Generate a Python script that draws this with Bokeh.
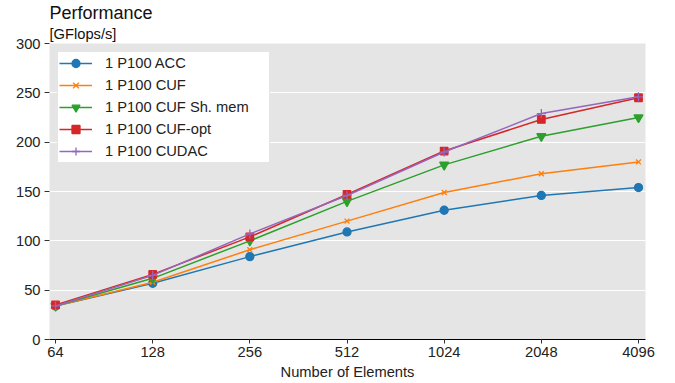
from bokeh.plotting import figure
from bokeh.models import FixedTicker, Legend, LegendItem, Range1d, Title
from bokeh.embed import file_html
from bokeh.resources import INLINE

elements = [64, 128, 256, 512, 1024, 2048, 4096]
tick_labels = ["64", "128", "256", "512", "1024", "2048", "4096"]
acc = [34, 57, 84, 109, 131, 146, 154]
cuf = [34, 58, 91, 120, 149, 168, 180]
cuf_shmem = [34, 62, 100, 140, 177, 206, 225]
cuf_opt = [35, 66, 104, 147, 191, 223, 245]
cudac = [34, 65, 107, 146, 190, 229, 246]
y_ticks = [0, 50, 100, 150, 200, 250, 300]

series = [
    ("1 P100 ACC", acc, "#1f77b4", "circle", 8),
    ("1 P100 CUF", cuf, "#ff7f0e", "x", 7),
    ("1 P100 CUF Sh. mem", cuf_shmem, "#2ca02c", "inverted_triangle", 9),
    ("1 P100 CUF-opt", cuf_opt, "#d62728", "square", 7.5),
    ("1 P100 CUDAC", cudac, "#9467bd", "cross", 9),
]

FONT = "Liberation Sans"
FS = "14.7px"

p = figure(width=675, height=383, x_axis_type="log",
           x_range=Range1d(61.3, 4306), y_range=Range1d(0, 300),
           output_backend="svg", toolbar_location=None,
           title="Performance",
           min_border_left=49, min_border_right=30,
           min_border_top=43, min_border_bottom=44)
p.title.text_font = FONT
p.title.text_font_size = "18px"
p.title.text_font_style = "normal"
p.title.text_color = "#111111"
p.title.align = "left"
p.title.standoff = 0
p.title.offset = 0
p.add_layout(Title(text="[GFlops/s]", text_font=FONT, text_font_size=FS,
                   text_font_style="normal", text_color="#111111",
                   align="left", standoff=3, offset=0), "above")

p.background_fill_color = "#e5e5e5"
p.border_fill_color = "white"
p.outline_line_color = None

p.xgrid.grid_line_color = None
p.ygrid.grid_line_color = "white"
p.ygrid.grid_line_width = 1.2
p.ygrid.ticker = FixedTicker(ticks=y_ticks)

p.xaxis.ticker = FixedTicker(ticks=elements)
p.xaxis.major_label_overrides = {e: t for e, t in zip(elements, tick_labels)}
p.xaxis.minor_tick_line_color = None
p.xaxis.axis_label = "Number of Elements"
p.xaxis.axis_label_text_font = FONT
p.xaxis.axis_label_text_font_style = "normal"
p.xaxis.axis_label_text_font_size = FS
p.xaxis.axis_label_text_color = "#222222"
p.xaxis.axis_label_standoff = 4
p.xaxis.axis_line_color = "black"
p.xaxis.major_tick_line_color = "#333333"
p.xaxis.major_tick_out = 4
p.xaxis.major_tick_in = 0
p.xaxis.major_label_standoff = 3

p.yaxis.ticker = FixedTicker(ticks=y_ticks)
p.yaxis.minor_tick_line_color = None
p.yaxis.axis_line_color = None
p.yaxis.major_tick_line_color = "#333333"
p.yaxis.major_tick_out = 5
p.yaxis.major_tick_in = 0
p.yaxis.major_label_standoff = 4

for ax in (p.xaxis, p.yaxis):
    ax.major_label_text_font = FONT
    ax.major_label_text_font_size = FS
    ax.major_label_text_color = "#222222"

items = []
for name, vals, color, marker, size in series:
    r1 = p.line(elements, vals, line_color=color, line_width=1.5)
    r2 = p.scatter(elements, vals, marker=marker, size=size,
                   fill_color=color, line_color=color, line_width=1.3)
    items.append(LegendItem(label=name, renderers=[r1, r2]))

legend = Legend(items=items, location="top_left")
legend.label_text_font = FONT
legend.label_text_font_size = FS
legend.label_text_color = "#222222"
legend.glyph_width = 33
legend.glyph_height = 20
legend.label_height = 20
legend.label_width = 163
legend.label_standoff = 13
legend.spacing = 2
legend.padding = 1
legend.margin = 8
legend.border_line_color = "#cccccc"
legend.background_fill_color = "white"
legend.background_fill_alpha = 1.0
p.add_layout(legend, "center")

open("out.html", "w").write(file_html(p, INLINE))
